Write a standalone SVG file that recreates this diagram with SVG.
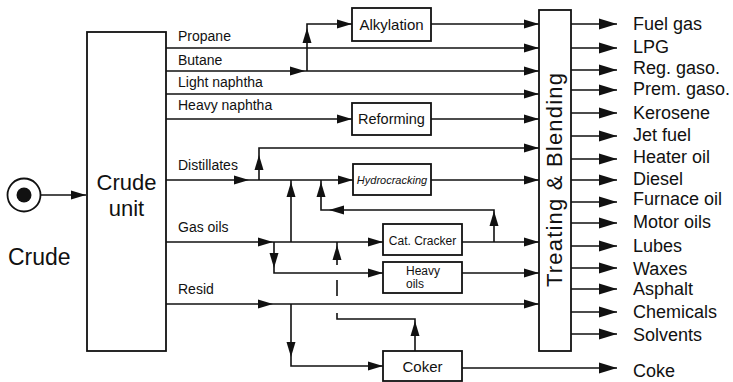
<svg xmlns="http://www.w3.org/2000/svg" width="733" height="382" viewBox="0 0 733 382">
<defs>
<path id="ah" d="M0,0 L-15,-4.5 L-15,4.5 Z"/>
<path id="ah2" d="M0,0 L-18,-5.5 L-18,5.5 Z"/>
</defs>
<style>
.box{fill:#fff;stroke:#111;stroke-width:1.8}
.ln{fill:none;stroke:#111;stroke-width:1.6}
.t{font-family:"Liberation Sans",Arial,sans-serif;fill:#111}
.lab{font-size:14px}
.out{font-size:18px}
.big{font-size:23px}
</style>
<rect width="733" height="382" fill="#fff"/>

<g id="connectors">
<g class="ln">
<path d="M41,195 H86"/>
<path d="M166,48 H539"/>
<path d="M166,71 H539"/>
<path d="M307,71 V24 H352"/>
<path d="M431,24 H539"/>
<path d="M166,94 H539"/>
<path d="M166,119 H352"/>
<path d="M431,119 H539"/>
<path d="M166,180 H353"/>
<path d="M259,180 V148 H539"/>
<path d="M431,180 H539"/>
<path d="M166,242 H383"/>
<path d="M291,242 V180"/>
<path d="M274,242 V273 H383"/>
<path d="M462,242 H539"/>
<path d="M494,242 V210 H321 V180"/>
<path d="M462,273 H539"/>
<path d="M337,242 V265 M337,280 V296 M337,313 V319 H415 V351"/>
<path d="M166,304 H539"/>
<path d="M291,304 V366 H383"/>
<path d="M462,368 H617"/>
<path d="M571,24 H617 M571,48 H617 M571,70 H617 M571,90 H617 M571,113 H617 M571,136 H617 M571,159 H617 M571,180 H617 M571,202 H617 M571,223 H617 M571,246 H617 M571,268 H617 M571,289 H617 M571,312 H617 M571,334 H617"/>
</g>
<g fill="#111">
<use href="#ah" transform="translate(86,195)"/>
<use href="#ah" transform="translate(305,71)"/>
<use href="#ah" transform="translate(307,28) rotate(-90)"/>
<use href="#ah" transform="translate(352,24)"/>
<use href="#ah" transform="translate(352,119)"/>
<use href="#ah" transform="translate(539,24)"/>
<use href="#ah" transform="translate(539,48)"/>
<use href="#ah" transform="translate(539,71)"/>
<use href="#ah" transform="translate(539,94)"/>
<use href="#ah" transform="translate(539,119)"/>
<use href="#ah" transform="translate(539,148)"/>
<use href="#ah" transform="translate(539,180)"/>
<use href="#ah" transform="translate(539,242)"/>
<use href="#ah" transform="translate(539,273)"/>
<use href="#ah" transform="translate(539,304)"/>
<use href="#ah" transform="translate(249,180)"/>
<use href="#ah" transform="translate(259,155) rotate(-90)"/>
<use href="#ah" transform="translate(353,180)"/>
<use href="#ah" transform="translate(291,182) rotate(-90)"/>
<use href="#ah" transform="translate(321,182) rotate(-90)"/>
<use href="#ah" transform="translate(329,210) rotate(180)"/>
<use href="#ah" transform="translate(494,211) rotate(-90)"/>
<use href="#ah" transform="translate(273,242)"/>
<use href="#ah" transform="translate(383,242)"/>
<use href="#ah" transform="translate(274,268) rotate(90)"/>
<use href="#ah" transform="translate(383,273)"/>
<use href="#ah" transform="translate(337,245) rotate(-90)"/>
<use href="#ah" transform="translate(273,304)"/>
<use href="#ah" transform="translate(291,357) rotate(90)"/>
<use href="#ah" transform="translate(383,366)"/>
<use href="#ah" transform="translate(415,321) rotate(-90)"/>
<use href="#ah2" transform="translate(617,24)"/>
<use href="#ah2" transform="translate(617,48)"/>
<use href="#ah2" transform="translate(617,70)"/>
<use href="#ah2" transform="translate(617,90)"/>
<use href="#ah2" transform="translate(617,113)"/>
<use href="#ah2" transform="translate(617,136)"/>
<use href="#ah2" transform="translate(617,159)"/>
<use href="#ah2" transform="translate(617,180)"/>
<use href="#ah2" transform="translate(617,202)"/>
<use href="#ah2" transform="translate(617,223)"/>
<use href="#ah2" transform="translate(617,246)"/>
<use href="#ah2" transform="translate(617,268)"/>
<use href="#ah2" transform="translate(617,289)"/>
<use href="#ah2" transform="translate(617,312)"/>
<use href="#ah2" transform="translate(617,334)"/>
<use href="#ah2" transform="translate(617,368)"/>
</g>
<g class="t lab">
<text x="178" y="41">Propane</text>
<text x="178" y="65">Butane</text>
<text x="178" y="87">Light naphtha</text>
<text x="178" y="110">Heavy naphtha</text>
<text x="178" y="170">Distillates</text>
<text x="178" y="232">Gas oils</text>
<text x="178" y="294">Resid</text>
</g>
</g>

<g id="crude">
<circle cx="24" cy="195" r="16.5" fill="#fff" stroke="#111" stroke-width="1.8"/>
<circle cx="24" cy="195" r="7.5" fill="#111"/>
<text class="t big" x="8" y="265">Crude</text>
</g>

<g id="crude-unit">
<rect class="box" x="87" y="32" width="79" height="319"/>
<text class="t" x="126.5" y="190" font-size="22" text-anchor="middle">Crude</text>
<text class="t" x="126.5" y="216" font-size="22" text-anchor="middle">unit</text>
</g>

<g id="alkylation">
<rect class="box" x="352" y="8" width="79" height="33"/>
<text class="t" x="391.5" y="30" font-size="15" text-anchor="middle">Alkylation</text>
</g>

<g id="reforming">
<rect class="box" x="352" y="103" width="79" height="32"/>
<text class="t" x="391.5" y="124" font-size="14.5" text-anchor="middle">Reforming</text>
</g>

<g id="hydrocracking">
<rect class="box" x="353" y="164" width="78" height="31"/>
<text class="t" x="392" y="184" font-size="11" font-style="italic" text-anchor="middle">Hydrocracking</text>
</g>

<g id="cat-cracker">
<rect class="box" x="383" y="224" width="79" height="31"/>
<text class="t" x="422.5" y="245" font-size="12" text-anchor="middle">Cat. Cracker</text>
</g>

<g id="heavy-oils">
<rect class="box" x="383" y="262" width="79" height="31"/>
<text class="t" x="423" y="275" font-size="12" text-anchor="middle">Heavy</text>
<text class="t" x="406" y="288" font-size="12">oils</text>
</g>

<g id="coker">
<rect class="box" x="383" y="351" width="79" height="30"/>
<text class="t" x="422.5" y="372" font-size="15" text-anchor="middle">Coker</text>
</g>

<g id="treating-blending">
<rect class="box" x="539" y="10" width="32" height="341"/>
<text class="t" transform="translate(562,180) rotate(-90)" font-size="22" text-anchor="middle" textLength="214" lengthAdjust="spacing">Treating &amp; Blending</text>
</g>

<g id="products" class="t out">
<text x="633" y="30">Fuel gas</text>
<text x="633" y="53">LPG</text>
<text x="633" y="74">Reg. gaso.</text>
<text x="633" y="95">Prem. gaso.</text>
<text x="633" y="119">Kerosene</text>
<text x="633" y="141">Jet fuel</text>
<text x="633" y="163">Heater oil</text>
<text x="633" y="185">Diesel</text>
<text x="633" y="205">Furnace oil</text>
<text x="633" y="228">Motor oils</text>
<text x="633" y="252">Lubes</text>
<text x="633" y="275">Waxes</text>
<text x="633" y="295">Asphalt</text>
<text x="633" y="318">Chemicals</text>
<text x="633" y="341">Solvents</text>
<text x="633" y="377">Coke</text>
</g>
</svg>
